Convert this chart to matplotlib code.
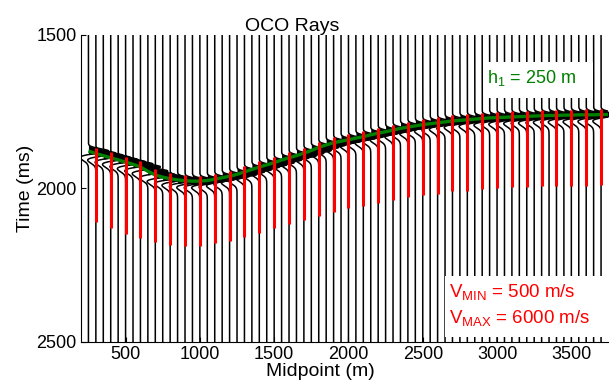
import numpy as np
import matplotlib.pyplot as plt
from matplotlib.patches import Rectangle

plt.rcParams['font.family'] = ['Liberation Sans', 'DejaVu Sans']
plt.rcParams['mathtext.fontset'] = 'custom'
plt.rcParams['mathtext.rm'] = 'Liberation Sans'
plt.rcParams['mathtext.it'] = 'Liberation Sans'
plt.rcParams['mathtext.default'] = 'regular'

# trace midpoints (m) and picked event time on each trace (ms)
midpoints = np.arange(250, 3701, 50)
event_time = [1878, 1886, 1893, 1900, 1907, 1914, 1921, 1930, 1944, 1956,
              1963, 1968, 1972, 1975, 1976, 1976, 1974, 1970, 1965, 1960,
              1954, 1946, 1938, 1930, 1923, 1916, 1907, 1900, 1893, 1885,
              1876, 1866, 1858, 1851, 1846, 1841, 1836, 1831, 1825, 1820,
              1815, 1810, 1804, 1800, 1796, 1792, 1789, 1786, 1783, 1780,
              1778, 1776, 1774, 1772, 1770, 1769, 1768, 1767, 1766, 1765,
              1764, 1763, 1762, 1762, 1761, 1761, 1760, 1760, 1760, 1759]

# ray midpoints and where each ray ends (ms)
ray_midpoints = np.arange(300, 3701, 100)
ray_end = [2110, 2130, 2148, 2162, 2175, 2183, 2188, 2186, 2179, 2170,
           2159, 2145, 2130, 2116, 2102, 2090, 2078, 2065, 2056, 2048,
           2037, 2028, 2021, 2017, 2009, 2007, 2001, 1998, 1996, 1996,
           1993, 1993, 1993, 1993, 1990]

fig = plt.figure(figsize=(6.16, 3.85), dpi=100)
ax = fig.add_axes([0.1315, 0.1117, 0.8563, 0.7974])

tt = np.linspace(1500, 2500, 4001)
amp = 145.0
s = 10.5
for x0, t0 in zip(midpoints, event_time):
    tau = tt - t0
    w = np.exp(-(tau / s) ** 2) - 0.4 * np.exp(-((tau - 1.9 * s) / (1.5 * s)) ** 2)
    xs = x0 + amp * w
    ax.fill_betweenx(tt, x0, xs, where=w > 0, color='k', lw=0, zorder=1)
    ax.plot(xs, tt, color='k', lw=1.1, zorder=2)

ev = dict(zip(midpoints, event_time))
ax.plot(np.append(midpoints, 3750), np.append(event_time, event_time[-1]),
        color='#008000', lw=2.4, zorder=3, solid_capstyle='butt')
ray_top = [ev[m] - 18 for m in ray_midpoints]
ax.vlines(ray_midpoints, ray_top, ray_end, color='red', lw=2.2, zorder=4)

ax.add_patch(Rectangle((0.766, 0.795), 0.205, 0.117, transform=ax.transAxes,
                       fc='white', ec='none', zorder=5))
ax.text(0.7697, 0.844, 'h$_1$ = 250 m', transform=ax.transAxes,
        color='#008000', fontsize=13, va='baseline', zorder=6)
ax.add_patch(Rectangle((0.69, 0.0163), 0.32, 0.199, transform=ax.transAxes,
                       fc='white', ec='none', zorder=5, clip_on=False))
ax.text(0.6976, 0.1456, 'V$_{MIN}$ = 500 m/s', transform=ax.transAxes,
        color='red', fontsize=13.5, va='baseline', zorder=6)
ax.text(0.6976, 0.0609, 'V$_{MAX}$ = 6000 m/s', transform=ax.transAxes,
        color='red', fontsize=13.5, va='baseline', zorder=6)

ax.set_xlim(200, 3750)
ax.set_ylim(2500, 1500)
ax.set_yticks([1500, 2000, 2500])
ax.set_xticks([500, 1000, 1500, 2000, 2500, 3000, 3500])
ax.tick_params(direction='in', length=3.6, labelsize=13, pad=3)
ax.spines['top'].set_visible(False)
ax.spines['right'].set_visible(False)

ax.set_title('OCO Rays', fontsize=14, x=0.40, pad=3)
ax.set_xlabel('Midpoint (m)', fontsize=14, x=0.453, labelpad=0)
ax.set_ylabel('Time (ms)', fontsize=14, labelpad=2)

fig.savefig('out.png', dpi=100)
